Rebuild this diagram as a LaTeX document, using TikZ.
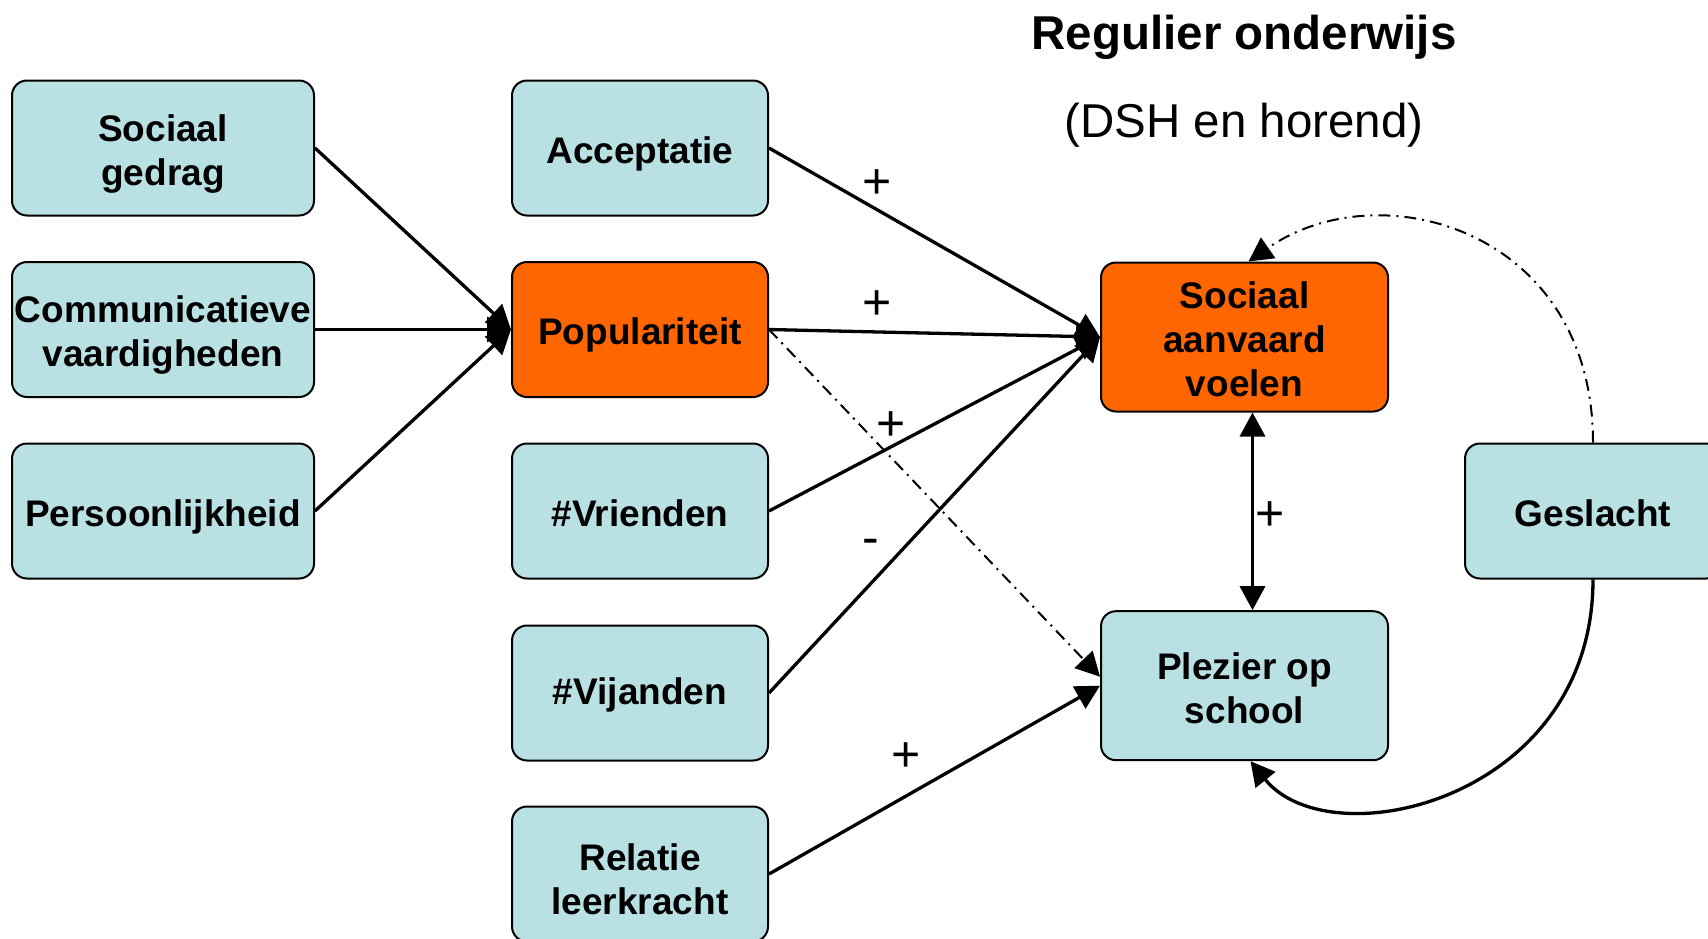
\documentclass[tikz,border=0pt]{standalone}
\usepackage{fontspec}
\setmainfont{Liberation Sans}
\usetikzlibrary{arrows.meta}
\definecolor{boxblue}{RGB}{185,224,227}
\definecolor{boxorange}{RGB}{255,102,0}
\newcommand{\boxstrut}{\rule{0pt}{38pt}}
\newcommand{\boxstrutb}{\rule{0pt}{31pt}}
\begin{document}
\begin{tikzpicture}[x=1pt,y=-1pt,
 box/.style={draw=black, line width=2pt, rounded corners=15pt, fill=boxblue, align=center, inner sep=0pt, font=\fontsize{37}{44}\selectfont\bfseries},
 lbox/.style={box, minimum width=302pt, minimum height=135pt},
 mbox/.style={box, minimum width=256pt, minimum height=135pt},
 rbox/.style={box, minimum width=287pt, minimum height=149pt},
 hot/.style={fill=boxorange},
 arr/.style={line width=3.3pt, -{Triangle[length=24pt,width=25pt]}},
 dd/.style={line width=2pt, dash pattern=on 12pt off 6pt on 2pt off 6pt, -{Triangle[length=24pt,width=25pt]}},
 sign/.style={font=\fontsize{50}{56}\selectfont, inner sep=0pt},
 ttl/.style={font=\fontsize{47.5}{56}\selectfont, inner sep=0pt, anchor=base}]
\useasboundingbox (0,0) rectangle (1708,938);
% titles
\node[ttl, font=\fontsize{47.5}{56}\selectfont\bfseries] (t1) at (1244,49) {Regulier onderwijs};
\node[ttl] (t2) at (1244,137) {(DSH en horend)};
% left column
\node[lbox] (sg) at (163,148) {\boxstrut Sociaal\\gedrag};
\node[lbox] (cv) at (163,329.5) {\boxstrut Communicatieve\\vaardigheden};
\node[lbox] (pe) at (163,511) {\boxstrut Persoonlijkheid};
% middle column
\node[mbox] (ac) at (640,148) {\boxstrut Acceptatie};
\node[mbox, hot] (po) at (640,329.5) {\boxstrut Populariteit};
\node[mbox] (vr) at (640,511) {\boxstrutb\#Vrienden};
\node[mbox] (vi) at (640,693) {\boxstrutb\#Vijanden};
\node[mbox] (rl) at (640,874) {\boxstrut Relatie\\leerkracht};
% right
\node[rbox, hot] (sa) at (1244.5,337) {\boxstrutb Sociaal\\aanvaard\\voelen};
\node[rbox] (pl) at (1244.5,685.7) {\boxstrutb Plezier op\\school};
\node[mbox] (ge) at (1593,511) {\boxstrutb Geslacht};
% edges to Populariteit
\draw[arr] (sg.east) -- (po.west);
\draw[arr] (cv.east) -- (po.west);
\draw[arr] (pe.east) -- (po.west);
% edges to Sociaal aanvaard voelen
\draw[arr] (ac.east) -- (sa.west);
\draw[arr] (po.east) -- (sa.west);
\draw[arr] (vr.east) -- (sa.west);
\draw[arr] (vi.east) -- (sa.west);
% to Plezier
\draw[dd] (po.east) -- ([yshift=9pt]pl.west);
\draw[arr] (rl.east) -- (pl.west);
\draw[line width=3.3pt, {Triangle[length=24pt,width=25pt]}-{Triangle[length=24pt,width=25pt]}] ([xshift=8pt]sa.south) -- ([xshift=8pt]pl.north);
% Geslacht curves
\draw[dd] (ge.north) .. controls (1593,230) and (1380,170) .. ([xshift=4pt]sa.north);
\draw[arr] (ge.south) .. controls (1593,800) and (1330,860) .. ([xshift=6pt]pl.south);
% signs
\node[sign] (s1) at (877,184) {+};
\node[sign] (s2) at (877,305) {+};
\node[sign] (s3) at (891,426) {+};
\node[sign] (s4) at (871,547) {-};
\node[sign] (s5) at (906,757) {+};
\node[sign] (s6) at (1270,516) {+};
\end{tikzpicture}
\end{document}
